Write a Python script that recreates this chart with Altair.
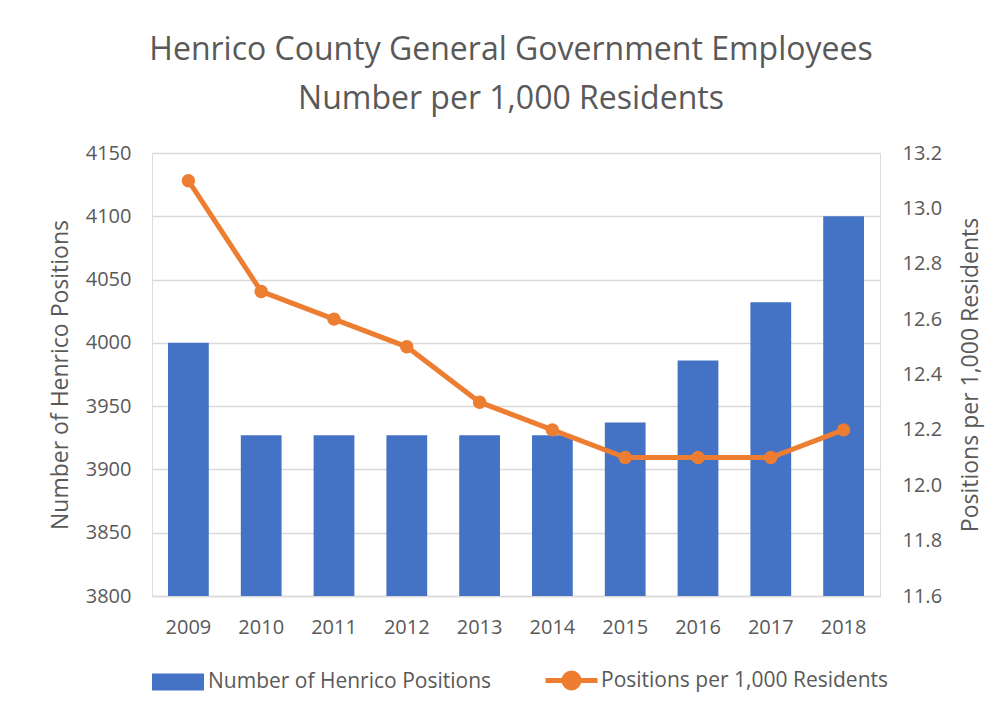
import altair as alt
import pandas as pd

years = ["2009", "2010", "2011", "2012", "2013", "2014", "2015", "2016", "2017", "2018"]
positions = [4000, 3927, 3927, 3927, 3927, 3927, 3937, 3986, 4032, 4100]
per_1000 = [13.1, 12.7, 12.6, 12.5, 12.3, 12.2, 12.1, 12.1, 12.1, 12.2]
left_ticks = [3800, 3850, 3900, 3950, 4000, 4050, 4100, 4150]
right_ticks = [11.6, 11.8, 12.0, 12.2, 12.4, 12.6, 12.8, 13.0, 13.2]
bar_name = "Number of Henrico Positions"
line_name = "Positions per 1,000 Residents"

df = pd.DataFrame({"year": years, "positions": positions, "per1000": per_1000,
                   "s1": bar_name, "s2": line_name})

FONT = "Open Sans"
GREY = "#595959"
BLUE = "#4472C4"
ORANGE = "#ED7D31"
W, H = 728, 443

x = alt.X("year:O", title=None,
          scale=alt.Scale(paddingInner=0.44, paddingOuter=0.22),
          axis=alt.Axis(labelAngle=0, ticks=False, labelPadding=21, domainColor="#d9d9d9",
                        domainWidth=1.5, labelFontSize=20, labelColor=GREY, labelFont=FONT))

bars = alt.Chart(df).mark_bar().encode(
    x=x,
    y=alt.Y("positions:Q",
            scale=alt.Scale(domain=[3800, 4150], zero=False, nice=False),
            axis=alt.Axis(values=left_ticks, format="d", title="Number of Henrico Positions", ticks=False,
                          domain=False, grid=True, gridColor="#d9d9d9", gridWidth=1.5,
                          labelFontSize=20, labelColor=GREY, labelFont=FONT, labelPadding=21,
                          titleFontSize=23, titleColor=GREY, titleFont=FONT, titleFontWeight="normal",
                          titleAngle=270, titleX=-92, titleY=H / 2, titleAlign="center",
                          titleBaseline="middle")),
    y2=alt.datum(3800),
    color=alt.Color("s1:N", scale=alt.Scale(domain=[bar_name], range=[BLUE]),
                    legend=alt.Legend(title=None, orient="none", legendX=0, legendY=503,
                                      symbolType="M-1,-0.33H1V0.33H-1Z", symbolSize=2704,
                                      symbolStrokeWidth=0, labelFontSize=21, labelColor=GREY,
                                      labelFont=FONT, labelOffset=4, labelLimit=500)),
)

line = alt.Chart(df).mark_line(strokeWidth=5,
                               point=alt.OverlayMarkDef(size=180, filled=True, color=ORANGE)).encode(
    x=x,
    y=alt.Y("per1000:Q",
            scale=alt.Scale(domain=[11.6, 13.2], zero=False, nice=False),
            axis=alt.Axis(values=right_ticks, format=".1f", orient="right",
                          title="Positions per 1,000 Residents", ticks=False, domain=False, grid=False,
                          labelFontSize=20, labelColor=GREY, labelFont=FONT, labelPadding=22,
                          titleFontSize=23, titleColor=GREY, titleFont=FONT, titleFontWeight="normal",
                          titleAngle=270, titleX=90, titleY=H / 2, titleAlign="center",
                          titleBaseline="middle")),
    color=alt.Color("s2:N", scale=alt.Scale(domain=[line_name], range=[ORANGE]),
                    legend=alt.Legend(title=None, orient="none", legendX=391, legendY=499,
                                      symbolType="M-1,0H1M0.29,0A0.29,0.29 0 1,1 -0.29,0A0.29,0.29 0 1,1 0.29,0Z",
                                      symbolSize=2704, symbolStrokeWidth=5, symbolFillColor=ORANGE,
                                      labelFontSize=21, labelColor=GREY, labelFont=FONT, labelOffset=1,
                                      labelLimit=500)),
)

chart = alt.layer(bars, line).resolve_scale(y="independent", color="independent").properties(
    width=W, height=H,
    autosize="none",
    padding={"left": 144, "top": 145, "right": 119, "bottom": 110},
    title=alt.TitleParams(text=["Henrico County General Government Employees", "Number per 1,000 Residents"],
                          fontSize=32, color=GREY, font=FONT, fontWeight="normal", anchor="middle",
                          lineHeight=49, offset=27, dx=-5),
).configure_view(stroke=None).configure(background="white")

chart.save("out.html", embed_options={"renderer": "svg", "actions": False})
